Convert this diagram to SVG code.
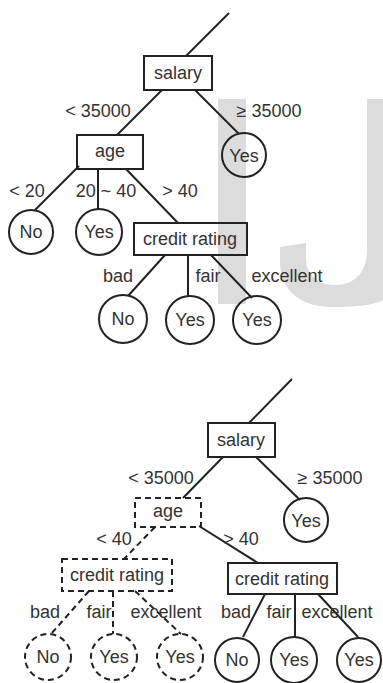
<svg xmlns="http://www.w3.org/2000/svg" width="383" height="683" viewBox="0 0 383 683">
<style>
.bg{fill:#ffffff}
.wm{fill:#dcdcdc}
.box{fill:none;stroke:#222;stroke-width:2}
.leaf{fill:none;stroke:#222;stroke-width:2}
.dash{stroke-dasharray:6 4}
.edge{stroke:#222;stroke-width:2;fill:none}
text{font-family:"Liberation Sans",Arial,sans-serif;font-size:18px;fill:#333;text-anchor:middle}
</style>
<rect class="bg" x="0" y="0" width="383" height="683"/>
<g id="watermark">
<rect class="wm" x="218" y="99" width="28" height="205"/>
<path class="wm" d="M367 99 H383 V300 C375 305 355 307 333 307 C300 307 280 290 280 262 V247 L306 243 V258 C306 275 318 285 335 285 C355 285 367 272 367 250 Z"/>
</g>
<g id="connectors">
<line class="edge" x1="229" y1="13" x2="186" y2="56"/>
<line class="edge" x1="162" y1="90" x2="117" y2="135"/>
<line class="edge" x1="195" y1="90" x2="239" y2="134"/>
<line class="edge" x1="79" y1="166" x2="35" y2="210"/>
<line class="edge" x1="98" y1="169" x2="98" y2="209"/>
<line class="edge" x1="126" y1="169" x2="178" y2="223"/>
<line class="edge" x1="165" y1="255" x2="128" y2="296"/>
<line class="edge" x1="188" y1="255" x2="188" y2="297"/>
<line class="edge" x1="211" y1="255" x2="252" y2="298"/>
<line class="edge" x1="292" y1="379" x2="249" y2="423"/>
<line class="edge" x1="223" y1="457" x2="183" y2="498"/>
<line class="edge" x1="256" y1="457" x2="300" y2="500"/>
<line class="edge dash" x1="155" y1="527" x2="124" y2="559"/>
<line class="edge" x1="199" y1="526" x2="258" y2="563"/>
<line class="edge dash" x1="89" y1="591" x2="51" y2="634"/>
<line class="edge dash" x1="113" y1="591" x2="113" y2="634"/>
<line class="edge dash" x1="135" y1="591" x2="181" y2="634"/>
<line class="edge" x1="265" y1="594" x2="243" y2="637"/>
<line class="edge" x1="295" y1="594" x2="295" y2="637"/>
<line class="edge" x1="318" y1="594" x2="358" y2="637"/>
</g>
<g id="edge-labels">
<text x="98" y="117">&lt; 35000</text>
<text x="269" y="117">≥ 35000</text>
<text x="27" y="197">&lt; 20</text>
<text x="106" y="197">20 ~ 40</text>
<text x="180" y="197">&gt; 40</text>
<text x="118" y="282">bad</text>
<text x="208" y="282">fair</text>
<text x="287" y="282">excellent</text>
<text x="161" y="484">&lt; 35000</text>
<text x="330" y="484">≥ 35000</text>
<text x="114" y="545">&lt; 40</text>
<text x="241" y="545">&gt; 40</text>
<text x="45" y="618">bad</text>
<text x="99" y="618">fair</text>
<text x="166" y="618">excellent</text>
<text x="236" y="618">bad</text>
<text x="279" y="618">fair</text>
<text x="337" y="618">excellent</text>
</g>
<g id="t-salary"><rect class="box" x="144" y="56" width="68" height="34"/><text x="178" y="79">salary</text></g>
<g id="t-age"><rect class="box" x="77" y="135" width="66" height="34"/><text x="110" y="157">age</text></g>
<g id="t-yes1"><circle class="leaf" cx="244" cy="155" r="22"/><text x="244" y="162">Yes</text></g>
<g id="t-no1"><circle class="leaf" cx="31" cy="232" r="22"/><text x="31" y="238">No</text></g>
<g id="t-yes2"><circle class="leaf" cx="99" cy="232" r="23"/><text x="99" y="238">Yes</text></g>
<g id="t-credit"><rect class="box" x="134" y="223" width="113" height="32"/><text x="190" y="245">credit rating</text></g>
<g id="t-no2"><circle class="leaf" cx="123" cy="319" r="24"/><text x="123" y="325">No</text></g>
<g id="t-yes3"><circle class="leaf" cx="190" cy="320" r="24"/><text x="190" y="326">Yes</text></g>
<g id="t-yes4"><circle class="leaf" cx="257" cy="320" r="24"/><text x="257" y="326">Yes</text></g>
<g id="b-salary"><rect class="box" x="208" y="423" width="67" height="34"/><text x="241" y="446">salary</text></g>
<g id="b-age"><rect class="box dash" x="135" y="498" width="66" height="29"/><text x="168" y="517">age</text></g>
<g id="b-yes1"><circle class="leaf" cx="306" cy="520" r="22"/><text x="306" y="527">Yes</text></g>
<g id="b-credit-d"><rect class="box dash" x="62" y="559" width="110" height="32"/><text x="117" y="581">credit rating</text></g>
<g id="b-credit"><rect class="box" x="228" y="563" width="109" height="31"/><text x="282" y="585">credit rating</text></g>
<g id="b-no-d"><circle class="leaf dash" cx="48" cy="657" r="23"/><text x="48" y="663">No</text></g>
<g id="b-yes-d1"><circle class="leaf dash" cx="114" cy="657" r="23"/><text x="114" y="663">Yes</text></g>
<g id="b-yes-d2"><circle class="leaf dash" cx="180" cy="657" r="23"/><text x="180" y="663">Yes</text></g>
<g id="b-no"><circle class="leaf" cx="237" cy="660" r="22"/><text x="237" y="666">No</text></g>
<g id="b-yes1s"><circle class="leaf" cx="294" cy="660" r="23"/><text x="294" y="666">Yes</text></g>
<g id="b-yes2s"><circle class="leaf" cx="359" cy="660" r="22"/><text x="359" y="666">Yes</text></g>
</svg>
